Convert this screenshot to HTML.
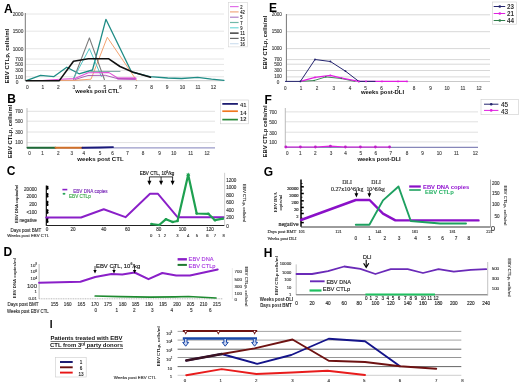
<!DOCTYPE html>
<html><head><meta charset="utf-8"><style>
html,body{margin:0;padding:0;background:#fff;width:520px;height:385px;overflow:hidden;}
svg{display:block;filter:blur(0.3px);font-family:"Liberation Sans",sans-serif;}
</style></head><body>
<svg width="520" height="385" viewBox="0 0 520 385">
<rect width="520" height="385" fill="#fff"/>
<text x="3.9" y="8.7" font-size="12" text-anchor="start" font-weight="bold" fill="#000" font-family="'Liberation Sans', sans-serif" dominant-baseline="central">A</text>
<line x1="25.3" y1="14" x2="224" y2="14" stroke="#e6e6e6" stroke-width="1"/>
<text x="23.3" y="14.3" font-size="4.8" text-anchor="end" font-weight="normal" fill="#444" stroke="#444" stroke-width="0.13" font-family="'Liberation Sans', sans-serif" dominant-baseline="central">2000</text>
<line x1="25.3" y1="31.2" x2="224" y2="31.2" stroke="#e6e6e6" stroke-width="1"/>
<text x="23.3" y="31.5" font-size="4.8" text-anchor="end" font-weight="normal" fill="#444" stroke="#444" stroke-width="0.13" font-family="'Liberation Sans', sans-serif" dominant-baseline="central">1500</text>
<line x1="25.3" y1="48.7" x2="224" y2="48.7" stroke="#e6e6e6" stroke-width="1"/>
<text x="23.3" y="49.0" font-size="4.8" text-anchor="end" font-weight="normal" fill="#444" stroke="#444" stroke-width="0.13" font-family="'Liberation Sans', sans-serif" dominant-baseline="central">1000</text>
<line x1="25.3" y1="59" x2="224" y2="59" stroke="#e6e6e6" stroke-width="1"/>
<text x="23.3" y="59.3" font-size="4.8" text-anchor="end" font-weight="normal" fill="#444" stroke="#444" stroke-width="0.13" font-family="'Liberation Sans', sans-serif" dominant-baseline="central">700</text>
<line x1="25.3" y1="64.4" x2="224" y2="64.4" stroke="#e6e6e6" stroke-width="1"/>
<text x="23.3" y="64.7" font-size="4.8" text-anchor="end" font-weight="normal" fill="#444" stroke="#444" stroke-width="0.13" font-family="'Liberation Sans', sans-serif" dominant-baseline="central">500</text>
<line x1="25.3" y1="70.6" x2="224" y2="70.6" stroke="#e6e6e6" stroke-width="1"/>
<text x="23.3" y="70.89999999999999" font-size="4.8" text-anchor="end" font-weight="normal" fill="#444" stroke="#444" stroke-width="0.13" font-family="'Liberation Sans', sans-serif" dominant-baseline="central">300</text>
<line x1="25.3" y1="76.8" x2="224" y2="76.8" stroke="#e6e6e6" stroke-width="1"/>
<text x="23.3" y="77.1" font-size="4.8" text-anchor="end" font-weight="normal" fill="#444" stroke="#444" stroke-width="0.13" font-family="'Liberation Sans', sans-serif" dominant-baseline="central">100</text>
<text x="17.2" y="82.4" font-size="4.8" text-anchor="middle" font-weight="normal" fill="#444" stroke="#444" stroke-width="0.13" font-family="'Liberation Sans', sans-serif" dominant-baseline="central">0</text>
<line x1="25.3" y1="80.7" x2="224" y2="80.7" stroke="#bbb" stroke-width="0.8"/>
<line x1="25.3" y1="13" x2="25.3" y2="81" stroke="#777" stroke-width="1"/>
<text x="27.4" y="87.6" font-size="4.8" text-anchor="middle" font-weight="normal" fill="#444" stroke="#444" stroke-width="0.13" font-family="'Liberation Sans', sans-serif" dominant-baseline="central">0</text>
<text x="42.91" y="87.6" font-size="4.8" text-anchor="middle" font-weight="normal" fill="#444" stroke="#444" stroke-width="0.13" font-family="'Liberation Sans', sans-serif" dominant-baseline="central">1</text>
<text x="58.42" y="87.6" font-size="4.8" text-anchor="middle" font-weight="normal" fill="#444" stroke="#444" stroke-width="0.13" font-family="'Liberation Sans', sans-serif" dominant-baseline="central">2</text>
<text x="73.93" y="87.6" font-size="4.8" text-anchor="middle" font-weight="normal" fill="#444" stroke="#444" stroke-width="0.13" font-family="'Liberation Sans', sans-serif" dominant-baseline="central">3</text>
<text x="89.44" y="87.6" font-size="4.8" text-anchor="middle" font-weight="normal" fill="#444" stroke="#444" stroke-width="0.13" font-family="'Liberation Sans', sans-serif" dominant-baseline="central">4</text>
<text x="104.94999999999999" y="87.6" font-size="4.8" text-anchor="middle" font-weight="normal" fill="#444" stroke="#444" stroke-width="0.13" font-family="'Liberation Sans', sans-serif" dominant-baseline="central">5</text>
<text x="120.46000000000001" y="87.6" font-size="4.8" text-anchor="middle" font-weight="normal" fill="#444" stroke="#444" stroke-width="0.13" font-family="'Liberation Sans', sans-serif" dominant-baseline="central">6</text>
<text x="135.97" y="87.6" font-size="4.8" text-anchor="middle" font-weight="normal" fill="#444" stroke="#444" stroke-width="0.13" font-family="'Liberation Sans', sans-serif" dominant-baseline="central">7</text>
<text x="151.48" y="87.6" font-size="4.8" text-anchor="middle" font-weight="normal" fill="#444" stroke="#444" stroke-width="0.13" font-family="'Liberation Sans', sans-serif" dominant-baseline="central">8</text>
<text x="166.99" y="87.6" font-size="4.8" text-anchor="middle" font-weight="normal" fill="#444" stroke="#444" stroke-width="0.13" font-family="'Liberation Sans', sans-serif" dominant-baseline="central">9</text>
<text x="182.5" y="87.6" font-size="4.8" text-anchor="middle" font-weight="normal" fill="#444" stroke="#444" stroke-width="0.13" font-family="'Liberation Sans', sans-serif" dominant-baseline="central">10</text>
<text x="198.01" y="87.6" font-size="4.8" text-anchor="middle" font-weight="normal" fill="#444" stroke="#444" stroke-width="0.13" font-family="'Liberation Sans', sans-serif" dominant-baseline="central">11</text>
<text x="213.52" y="87.6" font-size="4.8" text-anchor="middle" font-weight="normal" fill="#444" stroke="#444" stroke-width="0.13" font-family="'Liberation Sans', sans-serif" dominant-baseline="central">12</text>
<text x="97.3" y="91.4" font-size="5.8" text-anchor="middle" font-weight="bold" fill="#111" font-family="'Liberation Sans', sans-serif" dominant-baseline="central">weeks post CTL</text>
<text x="6.8" y="56.2" font-size="6.0" text-anchor="middle" font-weight="bold" fill="#111" font-family="'Liberation Sans', sans-serif" dominant-baseline="central" transform="rotate(-90 6.8 56.2)">EBV CTLp, cells/ml</text>
<polyline points="26.3,80.7 40.5,75.3 54,76.6 66.8,67.2 79,73.8 92.5,70 105.9,19.3 131.5,72 150,76.7 167.7,78 181.5,78.5 197.7,77.4 211.5,79.2 224,80.3" fill="none" stroke="#1f8c86" stroke-width="1.3" stroke-linejoin="round" stroke-linecap="round"/>
<polyline points="26.3,80.6 60,80.4 75,80.3 91,79.2 107.3,37.3 136.5,80.3" fill="none" stroke="#f08c4c" stroke-width="0.8" stroke-linejoin="round" stroke-linecap="round"/>
<polyline points="73.5,79.3 89.4,37.9 104.4,79.5" fill="none" stroke="#7a7a7a" stroke-width="1.1" stroke-linejoin="round" stroke-linecap="round"/>
<polyline points="73.5,78.5 89.4,48.6 101.4,76.5" fill="none" stroke="#40c0c0" stroke-width="0.9" stroke-linejoin="round" stroke-linecap="round"/>
<polyline points="90.7,71.4 120,71.4" fill="none" stroke="#6a9a96" stroke-width="0.9" stroke-linejoin="round" stroke-linecap="round"/>
<polyline points="42.5,80.5 60,79.3 74.8,78.6 88.3,72.8 109,72.6 118,78.2 135.5,78.4" fill="none" stroke="#e050d8" stroke-width="1.1" stroke-linejoin="round" stroke-linecap="round"/>
<polyline points="118,78.5 135.5,78.6" fill="none" stroke="#e050d8" stroke-width="2.2" stroke-linejoin="round" stroke-linecap="round"/>
<polyline points="75,79.5 88,75.5 105.3,75.3 118,78.8 135,79.2" fill="none" stroke="#a050b0" stroke-width="0.9" stroke-linejoin="round" stroke-linecap="round"/>
<polyline points="26.3,80.7 59.3,80.6 73.5,61.2 88.3,58.8 108.8,58.8 120,66.5 132.6,72 150.5,77.3" fill="none" stroke="#111" stroke-width="1.6" stroke-linejoin="round" stroke-linecap="round"/>
<rect x="228.6" y="2.3" width="19" height="44.6" fill="#fff" stroke="#d4d4d4" stroke-width="0.6"/>
<line x1="230" y1="6.6" x2="238.6" y2="6.6" stroke="#e070e8" stroke-width="1.2"/>
<text x="240.3" y="6.8" font-size="5.2" text-anchor="start" font-weight="normal" fill="#222" stroke="#222" stroke-width="0.13" font-family="'Liberation Sans', sans-serif" dominant-baseline="central" textLength="2.31" lengthAdjust="spacingAndGlyphs">2</text>
<line x1="230" y1="11.899999999999999" x2="238.6" y2="11.899999999999999" stroke="#f0a880" stroke-width="1.2"/>
<text x="240.3" y="12.099999999999998" font-size="5.2" text-anchor="start" font-weight="normal" fill="#222" stroke="#222" stroke-width="0.13" font-family="'Liberation Sans', sans-serif" dominant-baseline="central" textLength="4.63" lengthAdjust="spacingAndGlyphs">42</text>
<line x1="230" y1="17.2" x2="238.6" y2="17.2" stroke="#b080c8" stroke-width="1.2"/>
<text x="240.3" y="17.4" font-size="5.2" text-anchor="start" font-weight="normal" fill="#222" stroke="#222" stroke-width="0.13" font-family="'Liberation Sans', sans-serif" dominant-baseline="central" textLength="2.31" lengthAdjust="spacingAndGlyphs">5</text>
<line x1="230" y1="22.5" x2="238.6" y2="22.5" stroke="#70b8a8" stroke-width="1.2"/>
<text x="240.3" y="22.7" font-size="5.2" text-anchor="start" font-weight="normal" fill="#222" stroke="#222" stroke-width="0.13" font-family="'Liberation Sans', sans-serif" dominant-baseline="central" textLength="2.31" lengthAdjust="spacingAndGlyphs">7</text>
<line x1="230" y1="27.799999999999997" x2="238.6" y2="27.799999999999997" stroke="#70d8d8" stroke-width="1.2"/>
<text x="240.3" y="27.999999999999996" font-size="5.2" text-anchor="start" font-weight="normal" fill="#222" stroke="#222" stroke-width="0.13" font-family="'Liberation Sans', sans-serif" dominant-baseline="central" textLength="2.31" lengthAdjust="spacingAndGlyphs">9</text>
<line x1="230" y1="33.1" x2="238.6" y2="33.1" stroke="#111" stroke-width="1.2"/>
<text x="240.3" y="33.300000000000004" font-size="5.2" text-anchor="start" font-weight="normal" fill="#222" stroke="#222" stroke-width="0.13" font-family="'Liberation Sans', sans-serif" dominant-baseline="central" textLength="4.63" lengthAdjust="spacingAndGlyphs">11</text>
<line x1="230" y1="38.4" x2="238.6" y2="38.4" stroke="#666" stroke-width="1.2"/>
<text x="240.3" y="38.6" font-size="5.2" text-anchor="start" font-weight="normal" fill="#222" stroke="#222" stroke-width="0.13" font-family="'Liberation Sans', sans-serif" dominant-baseline="central" textLength="4.63" lengthAdjust="spacingAndGlyphs">15</text>
<line x1="230" y1="43.7" x2="238.6" y2="43.7" stroke="#d0e0f0" stroke-width="1.2"/>
<text x="240.3" y="43.900000000000006" font-size="5.2" text-anchor="start" font-weight="normal" fill="#222" stroke="#222" stroke-width="0.13" font-family="'Liberation Sans', sans-serif" dominant-baseline="central" textLength="4.63" lengthAdjust="spacingAndGlyphs">16</text>
<text x="7.2" y="98.6" font-size="12" text-anchor="start" font-weight="bold" fill="#000" font-family="'Liberation Sans', sans-serif" dominant-baseline="central">B</text>
<line x1="27" y1="111.3" x2="215" y2="111.3" stroke="#e2e2e2" stroke-width="1"/>
<text x="22.9" y="111.3" font-size="4.6" text-anchor="end" font-weight="normal" fill="#444" stroke="#444" stroke-width="0.13" font-family="'Liberation Sans', sans-serif" dominant-baseline="central">700</text>
<line x1="27" y1="121.2" x2="215" y2="121.2" stroke="#e2e2e2" stroke-width="1"/>
<text x="22.9" y="121.2" font-size="4.6" text-anchor="end" font-weight="normal" fill="#444" stroke="#444" stroke-width="0.13" font-family="'Liberation Sans', sans-serif" dominant-baseline="central">500</text>
<line x1="27" y1="132" x2="215" y2="132" stroke="#e2e2e2" stroke-width="1"/>
<text x="22.9" y="132" font-size="4.6" text-anchor="end" font-weight="normal" fill="#444" stroke="#444" stroke-width="0.13" font-family="'Liberation Sans', sans-serif" dominant-baseline="central">300</text>
<line x1="27" y1="142.6" x2="215" y2="142.6" stroke="#e2e2e2" stroke-width="1"/>
<text x="22.9" y="142.6" font-size="4.6" text-anchor="end" font-weight="normal" fill="#444" stroke="#444" stroke-width="0.13" font-family="'Liberation Sans', sans-serif" dominant-baseline="central">100</text>
<line x1="27" y1="108" x2="27" y2="148" stroke="#aaa" stroke-width="0.8"/>
<line x1="27" y1="147.9" x2="215" y2="147.9" stroke="#9a9ac8" stroke-width="1.1"/>
<polyline points="27.5,147.8 55.5,147.7" fill="none" stroke="#1e6a36" stroke-width="1.9" stroke-linejoin="round" stroke-linecap="round"/>
<polyline points="55.5,147.7 82.4,147.7" fill="none" stroke="#d07028" stroke-width="1.9" stroke-linejoin="round" stroke-linecap="round"/>
<polyline points="82.4,147.8 100,147.5 113,147.1" fill="none" stroke="#1a1a7a" stroke-width="1.9" stroke-linejoin="round" stroke-linecap="round"/>
<text x="29.5" y="153.3" font-size="4.6" text-anchor="middle" font-weight="normal" fill="#444" stroke="#444" stroke-width="0.13" font-family="'Liberation Sans', sans-serif" dominant-baseline="central">0</text>
<text x="42.5" y="153.3" font-size="4.6" text-anchor="middle" font-weight="normal" fill="#444" stroke="#444" stroke-width="0.13" font-family="'Liberation Sans', sans-serif" dominant-baseline="central">1</text>
<text x="58.3" y="153.3" font-size="4.6" text-anchor="middle" font-weight="normal" fill="#444" stroke="#444" stroke-width="0.13" font-family="'Liberation Sans', sans-serif" dominant-baseline="central">2</text>
<text x="71.8" y="153.3" font-size="4.6" text-anchor="middle" font-weight="normal" fill="#444" stroke="#444" stroke-width="0.13" font-family="'Liberation Sans', sans-serif" dominant-baseline="central">3</text>
<text x="83.8" y="153.3" font-size="4.6" text-anchor="middle" font-weight="normal" fill="#444" stroke="#444" stroke-width="0.13" font-family="'Liberation Sans', sans-serif" dominant-baseline="central">4</text>
<text x="100" y="153.3" font-size="4.6" text-anchor="middle" font-weight="normal" fill="#444" stroke="#444" stroke-width="0.13" font-family="'Liberation Sans', sans-serif" dominant-baseline="central">5</text>
<text x="112.5" y="153.3" font-size="4.6" text-anchor="middle" font-weight="normal" fill="#444" stroke="#444" stroke-width="0.13" font-family="'Liberation Sans', sans-serif" dominant-baseline="central">6</text>
<text x="127.5" y="153.3" font-size="4.6" text-anchor="middle" font-weight="normal" fill="#444" stroke="#444" stroke-width="0.13" font-family="'Liberation Sans', sans-serif" dominant-baseline="central">7</text>
<text x="143" y="153.3" font-size="4.6" text-anchor="middle" font-weight="normal" fill="#444" stroke="#444" stroke-width="0.13" font-family="'Liberation Sans', sans-serif" dominant-baseline="central">8</text>
<text x="159.5" y="153.3" font-size="4.6" text-anchor="middle" font-weight="normal" fill="#444" stroke="#444" stroke-width="0.13" font-family="'Liberation Sans', sans-serif" dominant-baseline="central">9</text>
<text x="173.75" y="153.3" font-size="4.6" text-anchor="middle" font-weight="normal" fill="#444" stroke="#444" stroke-width="0.13" font-family="'Liberation Sans', sans-serif" dominant-baseline="central">10</text>
<text x="190.75" y="153.3" font-size="4.6" text-anchor="middle" font-weight="normal" fill="#444" stroke="#444" stroke-width="0.13" font-family="'Liberation Sans', sans-serif" dominant-baseline="central">11</text>
<text x="207" y="153.3" font-size="4.6" text-anchor="middle" font-weight="normal" fill="#444" stroke="#444" stroke-width="0.13" font-family="'Liberation Sans', sans-serif" dominant-baseline="central">12</text>
<text x="100.5" y="158.8" font-size="6.1" text-anchor="middle" font-weight="bold" fill="#111" font-family="'Liberation Sans', sans-serif" dominant-baseline="central">weeks post CTL</text>
<text x="10.2" y="131.5" font-size="5.9" text-anchor="middle" font-weight="bold" fill="#111" font-family="'Liberation Sans', sans-serif" dominant-baseline="central" transform="rotate(-90 10.2 131.5)">EBV CTLp, cells/ml</text>
<rect x="220.5" y="100" width="28" height="23.8" fill="#fff" stroke="#ccc" stroke-width="0.6"/>
<line x1="222.3" y1="103.9" x2="237.9" y2="103.9" stroke="#10106a" stroke-width="1.7"/>
<text x="240" y="105" font-size="5.8" text-anchor="start" font-weight="bold" fill="#333" font-family="'Liberation Sans', sans-serif" dominant-baseline="central">41</text>
<line x1="222.3" y1="111.2" x2="237.9" y2="111.2" stroke="#f07820" stroke-width="1.7"/>
<text x="240" y="113" font-size="5.8" text-anchor="start" font-weight="bold" fill="#333" font-family="'Liberation Sans', sans-serif" dominant-baseline="central">14</text>
<line x1="222.3" y1="119.6" x2="237.9" y2="119.6" stroke="#2a8a3a" stroke-width="1.7"/>
<text x="240" y="119.2" font-size="5.8" text-anchor="start" font-weight="bold" fill="#333" font-family="'Liberation Sans', sans-serif" dominant-baseline="central">12</text>
<text x="269" y="7.5" font-size="12" text-anchor="start" font-weight="bold" fill="#000" font-family="'Liberation Sans', sans-serif" dominant-baseline="central">E</text>
<line x1="286.4" y1="14.8" x2="490" y2="14.8" stroke="#d8d8d8" stroke-width="1"/>
<text x="281.9" y="14.8" font-size="4.6" text-anchor="end" font-weight="normal" fill="#444" stroke="#444" stroke-width="0.13" font-family="'Liberation Sans', sans-serif" dominant-baseline="central">2000</text>
<line x1="286.4" y1="31.7" x2="490" y2="31.7" stroke="#d8d8d8" stroke-width="1"/>
<text x="281.9" y="31.7" font-size="4.6" text-anchor="end" font-weight="normal" fill="#444" stroke="#444" stroke-width="0.13" font-family="'Liberation Sans', sans-serif" dominant-baseline="central">1500</text>
<line x1="286.4" y1="48.6" x2="490" y2="48.6" stroke="#d8d8d8" stroke-width="1"/>
<text x="281.9" y="48.6" font-size="4.6" text-anchor="end" font-weight="normal" fill="#444" stroke="#444" stroke-width="0.13" font-family="'Liberation Sans', sans-serif" dominant-baseline="central">1000</text>
<line x1="286.4" y1="59.6" x2="490" y2="59.6" stroke="#d8d8d8" stroke-width="1"/>
<text x="281.9" y="59.6" font-size="4.6" text-anchor="end" font-weight="normal" fill="#444" stroke="#444" stroke-width="0.13" font-family="'Liberation Sans', sans-serif" dominant-baseline="central">700</text>
<line x1="286.4" y1="64.2" x2="490" y2="64.2" stroke="#d8d8d8" stroke-width="1"/>
<text x="281.9" y="64.2" font-size="4.6" text-anchor="end" font-weight="normal" fill="#444" stroke="#444" stroke-width="0.13" font-family="'Liberation Sans', sans-serif" dominant-baseline="central">500</text>
<line x1="286.4" y1="70.5" x2="490" y2="70.5" stroke="#d8d8d8" stroke-width="1"/>
<text x="281.9" y="70.5" font-size="4.6" text-anchor="end" font-weight="normal" fill="#444" stroke="#444" stroke-width="0.13" font-family="'Liberation Sans', sans-serif" dominant-baseline="central">300</text>
<line x1="286.4" y1="76.9" x2="490" y2="76.9" stroke="#d8d8d8" stroke-width="1"/>
<text x="281.9" y="76.9" font-size="4.6" text-anchor="end" font-weight="normal" fill="#444" stroke="#444" stroke-width="0.13" font-family="'Liberation Sans', sans-serif" dominant-baseline="central">100</text>
<text x="278" y="82.3" font-size="4.6" text-anchor="middle" font-weight="normal" fill="#444" stroke="#444" stroke-width="0.13" font-family="'Liberation Sans', sans-serif" dominant-baseline="central">0</text>
<line x1="286.4" y1="81.5" x2="490" y2="81.5" stroke="#bbb" stroke-width="0.8"/>
<line x1="286.4" y1="14" x2="286.4" y2="82" stroke="#777" stroke-width="1"/>
<text x="285.4" y="88.5" font-size="4.6" text-anchor="middle" font-weight="normal" fill="#444" stroke="#444" stroke-width="0.13" font-family="'Liberation Sans', sans-serif" dominant-baseline="central">0</text>
<text x="301" y="88.5" font-size="4.6" text-anchor="middle" font-weight="normal" fill="#444" stroke="#444" stroke-width="0.13" font-family="'Liberation Sans', sans-serif" dominant-baseline="central">1</text>
<text x="317" y="88.5" font-size="4.6" text-anchor="middle" font-weight="normal" fill="#444" stroke="#444" stroke-width="0.13" font-family="'Liberation Sans', sans-serif" dominant-baseline="central">2</text>
<text x="333.8" y="88.5" font-size="4.6" text-anchor="middle" font-weight="normal" fill="#444" stroke="#444" stroke-width="0.13" font-family="'Liberation Sans', sans-serif" dominant-baseline="central">3</text>
<text x="350" y="88.5" font-size="4.6" text-anchor="middle" font-weight="normal" fill="#444" stroke="#444" stroke-width="0.13" font-family="'Liberation Sans', sans-serif" dominant-baseline="central">4</text>
<text x="365.5" y="88.5" font-size="4.6" text-anchor="middle" font-weight="normal" fill="#444" stroke="#444" stroke-width="0.13" font-family="'Liberation Sans', sans-serif" dominant-baseline="central">5</text>
<text x="381.5" y="88.5" font-size="4.6" text-anchor="middle" font-weight="normal" fill="#444" stroke="#444" stroke-width="0.13" font-family="'Liberation Sans', sans-serif" dominant-baseline="central">6</text>
<text x="398" y="88.5" font-size="4.6" text-anchor="middle" font-weight="normal" fill="#444" stroke="#444" stroke-width="0.13" font-family="'Liberation Sans', sans-serif" dominant-baseline="central">7</text>
<text x="414" y="88.5" font-size="4.6" text-anchor="middle" font-weight="normal" fill="#444" stroke="#444" stroke-width="0.13" font-family="'Liberation Sans', sans-serif" dominant-baseline="central">8</text>
<text x="430.6" y="88.5" font-size="4.6" text-anchor="middle" font-weight="normal" fill="#444" stroke="#444" stroke-width="0.13" font-family="'Liberation Sans', sans-serif" dominant-baseline="central">9</text>
<text x="447" y="88.5" font-size="4.6" text-anchor="middle" font-weight="normal" fill="#444" stroke="#444" stroke-width="0.13" font-family="'Liberation Sans', sans-serif" dominant-baseline="central">10</text>
<text x="462.9" y="88.5" font-size="4.6" text-anchor="middle" font-weight="normal" fill="#444" stroke="#444" stroke-width="0.13" font-family="'Liberation Sans', sans-serif" dominant-baseline="central">11</text>
<text x="479" y="88.5" font-size="4.6" text-anchor="middle" font-weight="normal" fill="#444" stroke="#444" stroke-width="0.13" font-family="'Liberation Sans', sans-serif" dominant-baseline="central">12</text>
<text x="382.5" y="92.1" font-size="5.9" text-anchor="middle" font-weight="bold" fill="#111" font-family="'Liberation Sans', sans-serif" dominant-baseline="central">weeks post-DLI</text>
<text x="264.9" y="42.5" font-size="5.9" text-anchor="middle" font-weight="bold" fill="#111" font-family="'Liberation Sans', sans-serif" dominant-baseline="central" transform="rotate(-90 264.9 42.5)">EBV CTLp, cells/ml</text>
<polyline points="300.4,81.4 314.2,80.5 325.8,76.9 341.2,78.5 355,81.4" fill="none" stroke="#2e7d4a" stroke-width="0.9" stroke-linejoin="round" stroke-linecap="round"/>
<polyline points="300.4,81.4 315,77.4 330.4,75.4 341.9,78.2 358.8,81.4 366,81.4 382,81.4 398,81.4 407,81.4" fill="none" stroke="#e020e0" stroke-width="1.2" stroke-linejoin="round" stroke-linecap="round"/>
<polyline points="285.4,81.4 300.4,81.4 315,59.5 330.4,61.5 345.5,71.2 358.8,81.4 375,81.4" fill="none" stroke="#24246e" stroke-width="1" stroke-linejoin="round" stroke-linecap="round"/>
<circle cx="300.4" cy="81.4" r="0.9" fill="#24246e" stroke="none" stroke-width="0"/>
<circle cx="315" cy="59.5" r="0.9" fill="#24246e" stroke="none" stroke-width="0"/>
<circle cx="330.4" cy="61.5" r="0.9" fill="#24246e" stroke="none" stroke-width="0"/>
<circle cx="345.5" cy="71.2" r="0.9" fill="#24246e" stroke="none" stroke-width="0"/>
<circle cx="358.8" cy="81.4" r="0.9" fill="#24246e" stroke="none" stroke-width="0"/>
<circle cx="315" cy="77.4" r="0.9" fill="#e020e0" stroke="none" stroke-width="0"/>
<circle cx="330.4" cy="75.4" r="0.9" fill="#e020e0" stroke="none" stroke-width="0"/>
<circle cx="341.9" cy="78.2" r="0.9" fill="#e020e0" stroke="none" stroke-width="0"/>
<circle cx="358.8" cy="81.4" r="0.9" fill="#e020e0" stroke="none" stroke-width="0"/>
<circle cx="366" cy="81.4" r="0.9" fill="#e020e0" stroke="none" stroke-width="0"/>
<circle cx="382" cy="81.4" r="0.9" fill="#e020e0" stroke="none" stroke-width="0"/>
<circle cx="398" cy="81.4" r="0.9" fill="#e020e0" stroke="none" stroke-width="0"/>
<circle cx="407" cy="81.4" r="0.9" fill="#e020e0" stroke="none" stroke-width="0"/>
<circle cx="314.2" cy="80.5" r="0.8" fill="#2e7d4a" stroke="none" stroke-width="0"/>
<circle cx="325.8" cy="76.9" r="0.8" fill="#2e7d4a" stroke="none" stroke-width="0"/>
<circle cx="341.2" cy="78.5" r="0.8" fill="#2e7d4a" stroke="none" stroke-width="0"/>
<rect x="492.4" y="2" width="24.2" height="22.2" fill="#fff" stroke="#ccc" stroke-width="0.6"/>
<line x1="493.7" y1="6.5" x2="505.2" y2="6.5" stroke="#24246e" stroke-width="1"/>
<circle cx="499.8" cy="6.5" r="1.3" fill="#24246e" stroke="none" stroke-width="0"/>
<text x="507" y="6.8" font-size="6.3" text-anchor="start" font-weight="bold" fill="#333" font-family="'Liberation Sans', sans-serif" dominant-baseline="central">23</text>
<line x1="493.7" y1="13.5" x2="505.2" y2="13.5" stroke="#e020e0" stroke-width="1"/>
<circle cx="499.8" cy="13.5" r="1.3" fill="#e020e0" stroke="none" stroke-width="0"/>
<text x="507" y="13.8" font-size="6.3" text-anchor="start" font-weight="bold" fill="#333" font-family="'Liberation Sans', sans-serif" dominant-baseline="central">21</text>
<line x1="493.7" y1="20.5" x2="505.2" y2="20.5" stroke="#2e7d4a" stroke-width="1"/>
<circle cx="499.8" cy="20.5" r="1.3" fill="#2e7d4a" stroke="none" stroke-width="0"/>
<text x="507" y="20.8" font-size="6.3" text-anchor="start" font-weight="bold" fill="#333" font-family="'Liberation Sans', sans-serif" dominant-baseline="central">44</text>
<text x="264.5" y="99.8" font-size="12" text-anchor="start" font-weight="bold" fill="#000" font-family="'Liberation Sans', sans-serif" dominant-baseline="central">F</text>
<line x1="285.3" y1="111.9" x2="478" y2="111.9" stroke="#e0e0e0" stroke-width="1"/>
<text x="276.9" y="112.80000000000001" font-size="4.6" text-anchor="end" font-weight="normal" fill="#444" stroke="#444" stroke-width="0.13" font-family="'Liberation Sans', sans-serif" dominant-baseline="central">700</text>
<line x1="285.3" y1="121.8" x2="478" y2="121.8" stroke="#e0e0e0" stroke-width="1"/>
<text x="276.9" y="122.7" font-size="4.6" text-anchor="end" font-weight="normal" fill="#444" stroke="#444" stroke-width="0.13" font-family="'Liberation Sans', sans-serif" dominant-baseline="central">500</text>
<line x1="285.3" y1="132.2" x2="478" y2="132.2" stroke="#e0e0e0" stroke-width="1"/>
<text x="276.9" y="133.1" font-size="4.6" text-anchor="end" font-weight="normal" fill="#444" stroke="#444" stroke-width="0.13" font-family="'Liberation Sans', sans-serif" dominant-baseline="central">300</text>
<line x1="285.3" y1="141.9" x2="478" y2="141.9" stroke="#e0e0e0" stroke-width="1"/>
<text x="276.9" y="142.8" font-size="4.6" text-anchor="end" font-weight="normal" fill="#444" stroke="#444" stroke-width="0.13" font-family="'Liberation Sans', sans-serif" dominant-baseline="central">100</text>
<line x1="285.3" y1="108" x2="285.3" y2="148" stroke="#aaa" stroke-width="0.8"/>
<line x1="285.3" y1="147.3" x2="478" y2="147.3" stroke="#6a6aa8" stroke-width="1"/>
<polyline points="285.8,147 300.4,147 315.4,147 330.4,146.2 345.4,147 360.4,147 375.4,147 389.6,147" fill="none" stroke="#e020e0" stroke-width="1.2" stroke-linejoin="round" stroke-linecap="round"/>
<circle cx="285.8" cy="147" r="1.4" fill="#c020c8" stroke="none" stroke-width="0"/>
<circle cx="300.4" cy="147" r="1.4" fill="#c020c8" stroke="none" stroke-width="0"/>
<circle cx="315.4" cy="147" r="1.4" fill="#c020c8" stroke="none" stroke-width="0"/>
<circle cx="330.4" cy="146.2" r="1.4" fill="#c020c8" stroke="none" stroke-width="0"/>
<circle cx="345.4" cy="147" r="1.4" fill="#c020c8" stroke="none" stroke-width="0"/>
<circle cx="360.4" cy="147" r="1.4" fill="#c020c8" stroke="none" stroke-width="0"/>
<circle cx="375.4" cy="147" r="1.4" fill="#c020c8" stroke="none" stroke-width="0"/>
<circle cx="389.6" cy="147" r="1.4" fill="#c020c8" stroke="none" stroke-width="0"/>
<text x="287.2" y="153.2" font-size="4.6" text-anchor="middle" font-weight="normal" fill="#444" stroke="#444" stroke-width="0.13" font-family="'Liberation Sans', sans-serif" dominant-baseline="central">0</text>
<text x="300.4" y="153.2" font-size="4.6" text-anchor="middle" font-weight="normal" fill="#444" stroke="#444" stroke-width="0.13" font-family="'Liberation Sans', sans-serif" dominant-baseline="central">1</text>
<text x="315.4" y="153.2" font-size="4.6" text-anchor="middle" font-weight="normal" fill="#444" stroke="#444" stroke-width="0.13" font-family="'Liberation Sans', sans-serif" dominant-baseline="central">2</text>
<text x="331" y="153.2" font-size="4.6" text-anchor="middle" font-weight="normal" fill="#444" stroke="#444" stroke-width="0.13" font-family="'Liberation Sans', sans-serif" dominant-baseline="central">3</text>
<text x="345.6" y="153.2" font-size="4.6" text-anchor="middle" font-weight="normal" fill="#444" stroke="#444" stroke-width="0.13" font-family="'Liberation Sans', sans-serif" dominant-baseline="central">4</text>
<text x="360.8" y="153.2" font-size="4.6" text-anchor="middle" font-weight="normal" fill="#444" stroke="#444" stroke-width="0.13" font-family="'Liberation Sans', sans-serif" dominant-baseline="central">5</text>
<text x="375.8" y="153.2" font-size="4.6" text-anchor="middle" font-weight="normal" fill="#444" stroke="#444" stroke-width="0.13" font-family="'Liberation Sans', sans-serif" dominant-baseline="central">6</text>
<text x="390.8" y="153.2" font-size="4.6" text-anchor="middle" font-weight="normal" fill="#444" stroke="#444" stroke-width="0.13" font-family="'Liberation Sans', sans-serif" dominant-baseline="central">7</text>
<text x="407" y="153.2" font-size="4.6" text-anchor="middle" font-weight="normal" fill="#444" stroke="#444" stroke-width="0.13" font-family="'Liberation Sans', sans-serif" dominant-baseline="central">8</text>
<text x="422.5" y="153.2" font-size="4.6" text-anchor="middle" font-weight="normal" fill="#444" stroke="#444" stroke-width="0.13" font-family="'Liberation Sans', sans-serif" dominant-baseline="central">9</text>
<text x="439.2" y="153.2" font-size="4.6" text-anchor="middle" font-weight="normal" fill="#444" stroke="#444" stroke-width="0.13" font-family="'Liberation Sans', sans-serif" dominant-baseline="central">10</text>
<text x="456.5" y="153.2" font-size="4.6" text-anchor="middle" font-weight="normal" fill="#444" stroke="#444" stroke-width="0.13" font-family="'Liberation Sans', sans-serif" dominant-baseline="central">11</text>
<text x="475.3" y="153.2" font-size="4.6" text-anchor="middle" font-weight="normal" fill="#444" stroke="#444" stroke-width="0.13" font-family="'Liberation Sans', sans-serif" dominant-baseline="central">12</text>
<text x="379.1" y="158.5" font-size="5.9" text-anchor="middle" font-weight="bold" fill="#111" font-family="'Liberation Sans', sans-serif" dominant-baseline="central">weeks post-DLI</text>
<text x="264.8" y="131.5" font-size="5.9" text-anchor="middle" font-weight="bold" fill="#111" font-family="'Liberation Sans', sans-serif" dominant-baseline="central" transform="rotate(-90 264.8 131.5)">EBV CTLp cells/ml</text>
<rect x="481" y="99.3" width="37.5" height="15.4" fill="#fff" stroke="#ccc" stroke-width="0.6"/>
<line x1="484" y1="104.2" x2="498.4" y2="104.2" stroke="#24246e" stroke-width="1"/>
<circle cx="491.2" cy="104.2" r="1.3" fill="#24246e" stroke="none" stroke-width="0"/>
<text x="501" y="104.8" font-size="6.4" text-anchor="start" font-weight="normal" fill="#222" stroke="#222" stroke-width="0.13" font-family="'Liberation Sans', sans-serif" dominant-baseline="central">45</text>
<line x1="484" y1="110.4" x2="498.4" y2="110.4" stroke="#e020e0" stroke-width="1"/>
<circle cx="491.2" cy="110.4" r="1.3" fill="#e020e0" stroke="none" stroke-width="0"/>
<text x="501" y="111.0" font-size="6.4" text-anchor="start" font-weight="normal" fill="#222" stroke="#222" stroke-width="0.13" font-family="'Liberation Sans', sans-serif" dominant-baseline="central">43</text>
<text x="6.8" y="171.3" font-size="12" text-anchor="start" font-weight="bold" fill="#000" font-family="'Liberation Sans', sans-serif" dominant-baseline="central">C</text>
<line x1="46.3" y1="185.5" x2="46.3" y2="225.8" stroke="#000" stroke-width="1.1"/>
<rect x="46.3" y="185.8" width="1.9" height="3.9" fill="#000"/>
<line x1="48.2" y1="187.0" x2="49" y2="187.0" stroke="#000" stroke-width="0.6"/>
<line x1="48.2" y1="188.5" x2="49" y2="188.5" stroke="#000" stroke-width="0.6"/>
<rect x="46.3" y="193" width="1.9" height="4.5" fill="#000"/>
<line x1="48.2" y1="194.2" x2="49" y2="194.2" stroke="#000" stroke-width="0.6"/>
<line x1="48.2" y1="196.3" x2="49" y2="196.3" stroke="#000" stroke-width="0.6"/>
<rect x="46.3" y="200.8" width="1.9" height="5.2" fill="#000"/>
<line x1="48.2" y1="202.0" x2="49" y2="202.0" stroke="#000" stroke-width="0.6"/>
<line x1="48.2" y1="204.8" x2="49" y2="204.8" stroke="#000" stroke-width="0.6"/>
<rect x="46.3" y="209.2" width="1.9" height="4.6" fill="#000"/>
<line x1="48.2" y1="210.39999999999998" x2="49" y2="210.39999999999998" stroke="#000" stroke-width="0.6"/>
<line x1="48.2" y1="212.60000000000002" x2="49" y2="212.60000000000002" stroke="#000" stroke-width="0.6"/>
<rect x="46.3" y="217" width="1.9" height="5.9" fill="#000"/>
<line x1="48.2" y1="218.2" x2="49" y2="218.2" stroke="#000" stroke-width="0.6"/>
<line x1="48.2" y1="221.70000000000002" x2="49" y2="221.70000000000002" stroke="#000" stroke-width="0.6"/>
<text x="36.8" y="189.1" font-size="4.6" text-anchor="end" font-weight="normal" fill="#333" stroke="#333" stroke-width="0.13" font-family="'Liberation Sans', sans-serif" dominant-baseline="central">20000</text>
<text x="36.8" y="196.9" font-size="4.6" text-anchor="end" font-weight="normal" fill="#333" stroke="#333" stroke-width="0.13" font-family="'Liberation Sans', sans-serif" dominant-baseline="central">2000</text>
<text x="36.8" y="204.9" font-size="4.6" text-anchor="end" font-weight="normal" fill="#333" stroke="#333" stroke-width="0.13" font-family="'Liberation Sans', sans-serif" dominant-baseline="central">200</text>
<text x="36.8" y="212.7" font-size="4.6" text-anchor="end" font-weight="normal" fill="#333" stroke="#333" stroke-width="0.13" font-family="'Liberation Sans', sans-serif" dominant-baseline="central">&lt;100</text>
<text x="36.8" y="220.5" font-size="4.6" text-anchor="end" font-weight="normal" fill="#333" stroke="#333" stroke-width="0.13" font-family="'Liberation Sans', sans-serif" dominant-baseline="central">negative</text>
<text x="16" y="204" font-size="4.3" text-anchor="middle" font-weight="normal" fill="#222" stroke="#222" stroke-width="0.13" font-family="'Liberation Sans', sans-serif" dominant-baseline="central" transform="rotate(-90 16 204)">EBV DNA copies/ml</text>
<line x1="46.2" y1="225.5" x2="224.5" y2="225.5" stroke="#222" stroke-width="1"/>
<polyline points="46.2,217.5 81,217.5 103.75,209.25 125.5,217.2 150,193.8 158,193.8 177.5,217.2 223.7,217.2" fill="none" stroke="#8a1fc8" stroke-width="1.9" stroke-linejoin="round" stroke-linecap="round"/>
<polyline points="151.5,224 159.2,225 166,219.2 172.7,222 177.5,221 188.2,174.8 196.7,213.5 208.3,213.8 215,220.2 222.7,218.7" fill="none" stroke="#1ea050" stroke-width="2.2" stroke-linejoin="round" stroke-linecap="round"/>
<circle cx="151.5" cy="224" r="1.3" fill="#1ea050" stroke="none" stroke-width="0"/>
<circle cx="159.2" cy="225" r="1.3" fill="#1ea050" stroke="none" stroke-width="0"/>
<circle cx="166" cy="219.2" r="1.3" fill="#1ea050" stroke="none" stroke-width="0"/>
<circle cx="172.7" cy="222" r="1.3" fill="#1ea050" stroke="none" stroke-width="0"/>
<circle cx="177.5" cy="221" r="1.3" fill="#1ea050" stroke="none" stroke-width="0"/>
<circle cx="188.2" cy="174.8" r="1.3" fill="#1ea050" stroke="none" stroke-width="0"/>
<circle cx="196.7" cy="213.5" r="1.3" fill="#1ea050" stroke="none" stroke-width="0"/>
<circle cx="208.3" cy="213.8" r="1.3" fill="#1ea050" stroke="none" stroke-width="0"/>
<circle cx="215" cy="220.2" r="1.3" fill="#1ea050" stroke="none" stroke-width="0"/>
<circle cx="222.7" cy="218.7" r="1.3" fill="#1ea050" stroke="none" stroke-width="0"/>
<polygon points="188.20,172.20 188.70,173.93 190.45,173.50 189.20,174.80 190.45,176.10 188.70,175.67 188.20,177.40 187.70,175.67 185.95,176.10 187.20,174.80 185.95,173.50 187.70,173.93" fill="#1ea050"/>
<line x1="62.4" y1="189.6" x2="67.3" y2="189.6" stroke="#8a1fc8" stroke-width="1.6"/>
<text x="73.2" y="191" font-size="4.6" text-anchor="start" font-weight="normal" fill="#7a2ab8" stroke="#7a2ab8" stroke-width="0.13" font-family="'Liberation Sans', sans-serif" dominant-baseline="central">EBV DNA copies</text>
<circle cx="64" cy="193.8" r="1" fill="#1ea050" stroke="none" stroke-width="0"/>
<line x1="62.5" y1="193.8" x2="65.5" y2="193.8" stroke="#1ea050" stroke-width="0.8"/>
<text x="69" y="196.6" font-size="4.6" text-anchor="start" font-weight="normal" fill="#3aa848" stroke="#3aa848" stroke-width="0.13" font-family="'Liberation Sans', sans-serif" dominant-baseline="central">EBV CTLp</text>
<line x1="224.6" y1="172.8" x2="224.6" y2="226" stroke="#bbb" stroke-width="0.7"/>
<text x="226.2" y="180.5" font-size="4.6" text-anchor="start" font-weight="normal" fill="#333" stroke="#333" stroke-width="0.13" font-family="'Liberation Sans', sans-serif" dominant-baseline="central">1200</text>
<text x="226.2" y="187.5" font-size="4.6" text-anchor="start" font-weight="normal" fill="#333" stroke="#333" stroke-width="0.13" font-family="'Liberation Sans', sans-serif" dominant-baseline="central">1000</text>
<text x="226.2" y="195" font-size="4.6" text-anchor="start" font-weight="normal" fill="#333" stroke="#333" stroke-width="0.13" font-family="'Liberation Sans', sans-serif" dominant-baseline="central">800</text>
<text x="226.2" y="202.5" font-size="4.6" text-anchor="start" font-weight="normal" fill="#333" stroke="#333" stroke-width="0.13" font-family="'Liberation Sans', sans-serif" dominant-baseline="central">600</text>
<text x="226.2" y="210" font-size="4.6" text-anchor="start" font-weight="normal" fill="#333" stroke="#333" stroke-width="0.13" font-family="'Liberation Sans', sans-serif" dominant-baseline="central">400</text>
<text x="226.2" y="217.3" font-size="4.6" text-anchor="start" font-weight="normal" fill="#333" stroke="#333" stroke-width="0.13" font-family="'Liberation Sans', sans-serif" dominant-baseline="central">200</text>
<text x="226.2" y="226.6" font-size="4.6" text-anchor="start" font-weight="normal" fill="#333" stroke="#333" stroke-width="0.13" font-family="'Liberation Sans', sans-serif" dominant-baseline="central">0</text>
<text x="244.7" y="203" font-size="4.4" text-anchor="middle" font-weight="normal" fill="#333" stroke="#333" stroke-width="0.13" font-family="'Liberation Sans', sans-serif" dominant-baseline="central" transform="rotate(90 244.7 203)">EBV CTLp, cells/ml</text>
<text x="157" y="173.4" font-size="4.6" text-anchor="middle" font-weight="normal" fill="#111" stroke="#111" stroke-width="0.13" font-family="'Liberation Sans', sans-serif" dominant-baseline="central">EBV CTL, 10<tspan dy="-1" font-size="3">6</tspan><tspan dy="1">/kg</tspan></text>
<line x1="149.4" y1="176.9" x2="173.1" y2="176.9" stroke="#000" stroke-width="0.8"/>
<line x1="149.4" y1="176.9" x2="149.4" y2="181.5" stroke="#000" stroke-width="0.8"/>
<path d="M147.4,180.8 L151.4,180.8 L149.4,185.2 Z" fill="#000"/>
<line x1="161.1" y1="176.9" x2="161.1" y2="181.5" stroke="#000" stroke-width="0.8"/>
<path d="M159.1,180.8 L163.1,180.8 L161.1,185.2 Z" fill="#000"/>
<line x1="172.6" y1="176.9" x2="172.6" y2="181.5" stroke="#000" stroke-width="0.8"/>
<path d="M170.6,180.8 L174.6,180.8 L172.6,185.2 Z" fill="#000"/>
<text x="26" y="230.6" font-size="4.5" text-anchor="middle" font-weight="normal" fill="#333" stroke="#333" stroke-width="0.13" font-family="'Liberation Sans', sans-serif" dominant-baseline="central">Days post BMT</text>
<text x="28.1" y="235.8" font-size="4.35" text-anchor="middle" font-weight="normal" fill="#333" stroke="#333" stroke-width="0.13" font-family="'Liberation Sans', sans-serif" dominant-baseline="central">Weeks post EBV CTL</text>
<text x="47" y="229.8" font-size="4.6" text-anchor="middle" font-weight="normal" fill="#333" stroke="#333" stroke-width="0.13" font-family="'Liberation Sans', sans-serif" dominant-baseline="central">0</text>
<text x="73" y="229.8" font-size="4.6" text-anchor="middle" font-weight="normal" fill="#333" stroke="#333" stroke-width="0.13" font-family="'Liberation Sans', sans-serif" dominant-baseline="central">20</text>
<text x="103.75" y="229.8" font-size="4.6" text-anchor="middle" font-weight="normal" fill="#333" stroke="#333" stroke-width="0.13" font-family="'Liberation Sans', sans-serif" dominant-baseline="central">40</text>
<text x="127.5" y="229.8" font-size="4.6" text-anchor="middle" font-weight="normal" fill="#333" stroke="#333" stroke-width="0.13" font-family="'Liberation Sans', sans-serif" dominant-baseline="central">60</text>
<text x="158.75" y="229.8" font-size="4.6" text-anchor="middle" font-weight="normal" fill="#333" stroke="#333" stroke-width="0.13" font-family="'Liberation Sans', sans-serif" dominant-baseline="central">80</text>
<text x="182.5" y="229.8" font-size="4.6" text-anchor="middle" font-weight="normal" fill="#333" stroke="#333" stroke-width="0.13" font-family="'Liberation Sans', sans-serif" dominant-baseline="central">100</text>
<text x="210" y="229.8" font-size="4.6" text-anchor="middle" font-weight="normal" fill="#333" stroke="#333" stroke-width="0.13" font-family="'Liberation Sans', sans-serif" dominant-baseline="central">120</text>
<text x="151.25" y="235.5" font-size="4.2" text-anchor="middle" font-weight="normal" fill="#333" stroke="#333" stroke-width="0.13" font-family="'Liberation Sans', sans-serif" dominant-baseline="central">0</text>
<text x="159.25" y="235.5" font-size="4.2" text-anchor="middle" font-weight="normal" fill="#333" stroke="#333" stroke-width="0.13" font-family="'Liberation Sans', sans-serif" dominant-baseline="central">1</text>
<text x="165" y="235.5" font-size="4.2" text-anchor="middle" font-weight="normal" fill="#333" stroke="#333" stroke-width="0.13" font-family="'Liberation Sans', sans-serif" dominant-baseline="central">2</text>
<text x="177.5" y="235.5" font-size="4.2" text-anchor="middle" font-weight="normal" fill="#333" stroke="#333" stroke-width="0.13" font-family="'Liberation Sans', sans-serif" dominant-baseline="central">3</text>
<text x="188.25" y="235.5" font-size="4.2" text-anchor="middle" font-weight="normal" fill="#333" stroke="#333" stroke-width="0.13" font-family="'Liberation Sans', sans-serif" dominant-baseline="central">4</text>
<text x="197" y="235.5" font-size="4.2" text-anchor="middle" font-weight="normal" fill="#333" stroke="#333" stroke-width="0.13" font-family="'Liberation Sans', sans-serif" dominant-baseline="central">5</text>
<text x="207.5" y="235.5" font-size="4.2" text-anchor="middle" font-weight="normal" fill="#333" stroke="#333" stroke-width="0.13" font-family="'Liberation Sans', sans-serif" dominant-baseline="central">6</text>
<text x="215" y="235.5" font-size="4.2" text-anchor="middle" font-weight="normal" fill="#333" stroke="#333" stroke-width="0.13" font-family="'Liberation Sans', sans-serif" dominant-baseline="central">7</text>
<text x="223.75" y="235.5" font-size="4.2" text-anchor="middle" font-weight="normal" fill="#333" stroke="#333" stroke-width="0.13" font-family="'Liberation Sans', sans-serif" dominant-baseline="central">8</text>
<text x="3.5" y="251.6" font-size="12" text-anchor="start" font-weight="bold" fill="#000" font-family="'Liberation Sans', sans-serif" dominant-baseline="central">D</text>
<line x1="39.1" y1="264" x2="39.1" y2="299" stroke="#999" stroke-width="0.7"/>
<text x="37" y="265" font-size="4.4" text-anchor="end" font-weight="normal" fill="#333" stroke="#333" stroke-width="0.13" font-family="'Liberation Sans', sans-serif" dominant-baseline="central">10<tspan dy="-1" font-size="2.8">8</tspan></text>
<text x="37" y="271.7" font-size="4.4" text-anchor="end" font-weight="normal" fill="#333" stroke="#333" stroke-width="0.13" font-family="'Liberation Sans', sans-serif" dominant-baseline="central">10<tspan dy="-1" font-size="2.8">6</tspan></text>
<text x="37" y="278.7" font-size="4.4" text-anchor="end" font-weight="normal" fill="#333" stroke="#333" stroke-width="0.13" font-family="'Liberation Sans', sans-serif" dominant-baseline="central">10<tspan dy="-1" font-size="2.8">4</tspan></text>
<text x="37" y="286.1" font-size="6" text-anchor="end" font-weight="normal" fill="#333" stroke="#333" stroke-width="0.13" font-family="'Liberation Sans', sans-serif" dominant-baseline="central">100</text>
<text x="37" y="291.8" font-size="4.4" text-anchor="end" font-weight="normal" fill="#333" stroke="#333" stroke-width="0.13" font-family="'Liberation Sans', sans-serif" dominant-baseline="central">1</text>
<text x="37" y="298.2" font-size="4.4" text-anchor="end" font-weight="normal" fill="#333" stroke="#333" stroke-width="0.13" font-family="'Liberation Sans', sans-serif" dominant-baseline="central">0.01</text>
<text x="14.4" y="278.1" font-size="4.3" text-anchor="middle" font-weight="bold" fill="#333" font-family="'Liberation Sans', sans-serif" dominant-baseline="central" transform="rotate(-90 14.4 278.1)">EBV DNA copies/ml</text>
<line x1="39.1" y1="298.8" x2="223" y2="298.8" stroke="#999" stroke-width="0.7" stroke-dasharray="1,0.7"/>
<polyline points="39.1,282.7 80.4,281.7 95.2,277 111.5,274 122.3,274.6 134.6,272.5 148.5,279.2 162.3,273 176.2,275.5 190,275.5 217.7,269.4" fill="none" stroke="#8a1fc8" stroke-width="2" stroke-linejoin="round" stroke-linecap="round"/>
<polyline points="95.2,296 120,296.6 150,297.2 175,296.8 188.5,296.5 216,298" fill="none" stroke="#1e8a30" stroke-width="1.7" stroke-linejoin="round" stroke-linecap="round"/>
<text x="96" y="265.6" font-size="5.9" text-anchor="start" font-weight="normal" fill="#111" stroke="#111" stroke-width="0.13" font-family="'Liberation Sans', sans-serif" dominant-baseline="central">EBV CTL, 10<tspan dy="-1.2" font-size="3.6">6</tspan><tspan dy="1.2">/kg</tspan></text>
<line x1="95" y1="266" x2="95" y2="271" stroke="#000" stroke-width="0.7"/>
<path d="M93.3,270 L96.7,270 L95,273.6 Z" fill="#000"/>
<line x1="114" y1="266" x2="114" y2="271" stroke="#000" stroke-width="0.7"/>
<path d="M112.3,270 L115.7,270 L114,273.6 Z" fill="#000"/>
<line x1="134.6" y1="266" x2="134.6" y2="271" stroke="#000" stroke-width="0.7"/>
<path d="M132.9,270 L136.29999999999998,270 L134.6,273.6 Z" fill="#000"/>
<line x1="177.6" y1="259.3" x2="186.9" y2="259.3" stroke="#8a1fc8" stroke-width="2.4"/>
<text x="188.6" y="258.9" font-size="5.7" text-anchor="start" font-weight="normal" fill="#a838e0" stroke="#a838e0" stroke-width="0.13" font-family="'Liberation Sans', sans-serif" dominant-baseline="central">EBV DNA</text>
<line x1="177.6" y1="264.9" x2="186.9" y2="264.9" stroke="#1e7a30" stroke-width="2"/>
<text x="188.6" y="266.3" font-size="5.7" text-anchor="start" font-weight="normal" fill="#a838e0" stroke="#a838e0" stroke-width="0.13" font-family="'Liberation Sans', sans-serif" dominant-baseline="central">EBV CTLp</text>
<line x1="232.3" y1="268" x2="232.3" y2="299" stroke="#ddd" stroke-width="0.6"/>
<text x="234.5" y="271.5" font-size="4.4" text-anchor="start" font-weight="normal" fill="#333" stroke="#333" stroke-width="0.13" font-family="'Liberation Sans', sans-serif" dominant-baseline="central">700</text>
<text x="234.5" y="279.2" font-size="4.4" text-anchor="start" font-weight="normal" fill="#333" stroke="#333" stroke-width="0.13" font-family="'Liberation Sans', sans-serif" dominant-baseline="central">500</text>
<text x="234.5" y="286.3" font-size="4.4" text-anchor="start" font-weight="normal" fill="#333" stroke="#333" stroke-width="0.13" font-family="'Liberation Sans', sans-serif" dominant-baseline="central">300</text>
<text x="234.5" y="293" font-size="4.4" text-anchor="start" font-weight="normal" fill="#333" stroke="#333" stroke-width="0.13" font-family="'Liberation Sans', sans-serif" dominant-baseline="central">100</text>
<text x="234.5" y="299.2" font-size="4.4" text-anchor="start" font-weight="normal" fill="#333" stroke="#333" stroke-width="0.13" font-family="'Liberation Sans', sans-serif" dominant-baseline="central">0</text>
<text x="246.8" y="286.4" font-size="4.4" text-anchor="middle" font-weight="bold" fill="#333" font-family="'Liberation Sans', sans-serif" dominant-baseline="central" transform="rotate(90 246.8 286.4)">EBV CTLp, cells/ml</text>
<text x="23" y="304.6" font-size="4.6" text-anchor="middle" font-weight="normal" fill="#333" stroke="#333" stroke-width="0.13" font-family="'Liberation Sans', sans-serif" dominant-baseline="central" textLength="31.2" lengthAdjust="spacingAndGlyphs">Days post  BMT</text>
<text x="27.9" y="311.7" font-size="4.5" text-anchor="middle" font-weight="normal" fill="#333" stroke="#333" stroke-width="0.13" font-family="'Liberation Sans', sans-serif" dominant-baseline="central" textLength="41.7" lengthAdjust="spacingAndGlyphs">Weeks post EBV CTL</text>
<text x="54.6" y="304.1" font-size="4.6" text-anchor="middle" font-weight="normal" fill="#333" stroke="#333" stroke-width="0.13" font-family="'Liberation Sans', sans-serif" dominant-baseline="central">155</text>
<text x="67.7" y="304.1" font-size="4.6" text-anchor="middle" font-weight="normal" fill="#333" stroke="#333" stroke-width="0.13" font-family="'Liberation Sans', sans-serif" dominant-baseline="central">160</text>
<text x="81.4" y="304.1" font-size="4.6" text-anchor="middle" font-weight="normal" fill="#333" stroke="#333" stroke-width="0.13" font-family="'Liberation Sans', sans-serif" dominant-baseline="central">165</text>
<text x="95" y="304.1" font-size="4.6" text-anchor="middle" font-weight="normal" fill="#333" stroke="#333" stroke-width="0.13" font-family="'Liberation Sans', sans-serif" dominant-baseline="central">170</text>
<text x="107.9" y="304.1" font-size="4.6" text-anchor="middle" font-weight="normal" fill="#333" stroke="#333" stroke-width="0.13" font-family="'Liberation Sans', sans-serif" dominant-baseline="central">175</text>
<text x="122.7" y="304.1" font-size="4.6" text-anchor="middle" font-weight="normal" fill="#333" stroke="#333" stroke-width="0.13" font-family="'Liberation Sans', sans-serif" dominant-baseline="central">180</text>
<text x="135.6" y="304.1" font-size="4.6" text-anchor="middle" font-weight="normal" fill="#333" stroke="#333" stroke-width="0.13" font-family="'Liberation Sans', sans-serif" dominant-baseline="central">185</text>
<text x="149.1" y="304.1" font-size="4.6" text-anchor="middle" font-weight="normal" fill="#333" stroke="#333" stroke-width="0.13" font-family="'Liberation Sans', sans-serif" dominant-baseline="central">190</text>
<text x="163.1" y="304.1" font-size="4.6" text-anchor="middle" font-weight="normal" fill="#333" stroke="#333" stroke-width="0.13" font-family="'Liberation Sans', sans-serif" dominant-baseline="central">195</text>
<text x="177.1" y="304.1" font-size="4.6" text-anchor="middle" font-weight="normal" fill="#333" stroke="#333" stroke-width="0.13" font-family="'Liberation Sans', sans-serif" dominant-baseline="central">200</text>
<text x="190.5" y="304.1" font-size="4.6" text-anchor="middle" font-weight="normal" fill="#333" stroke="#333" stroke-width="0.13" font-family="'Liberation Sans', sans-serif" dominant-baseline="central">205</text>
<text x="203.5" y="304.1" font-size="4.6" text-anchor="middle" font-weight="normal" fill="#333" stroke="#333" stroke-width="0.13" font-family="'Liberation Sans', sans-serif" dominant-baseline="central">210</text>
<text x="216.9" y="304.1" font-size="4.6" text-anchor="middle" font-weight="normal" fill="#333" stroke="#333" stroke-width="0.13" font-family="'Liberation Sans', sans-serif" dominant-baseline="central">215</text>
<text x="95.8" y="310.9" font-size="4.6" text-anchor="middle" font-weight="normal" fill="#333" stroke="#333" stroke-width="0.13" font-family="'Liberation Sans', sans-serif" dominant-baseline="central">0</text>
<text x="116.8" y="310.9" font-size="4.6" text-anchor="middle" font-weight="normal" fill="#333" stroke="#333" stroke-width="0.13" font-family="'Liberation Sans', sans-serif" dominant-baseline="central">1</text>
<text x="134.3" y="310.9" font-size="4.6" text-anchor="middle" font-weight="normal" fill="#333" stroke="#333" stroke-width="0.13" font-family="'Liberation Sans', sans-serif" dominant-baseline="central">2</text>
<text x="152.3" y="310.9" font-size="4.6" text-anchor="middle" font-weight="normal" fill="#333" stroke="#333" stroke-width="0.13" font-family="'Liberation Sans', sans-serif" dominant-baseline="central">3</text>
<text x="171.7" y="310.9" font-size="4.6" text-anchor="middle" font-weight="normal" fill="#333" stroke="#333" stroke-width="0.13" font-family="'Liberation Sans', sans-serif" dominant-baseline="central">4</text>
<text x="191.4" y="310.9" font-size="4.6" text-anchor="middle" font-weight="normal" fill="#333" stroke="#333" stroke-width="0.13" font-family="'Liberation Sans', sans-serif" dominant-baseline="central">5</text>
<text x="210.2" y="310.9" font-size="4.6" text-anchor="middle" font-weight="normal" fill="#333" stroke="#333" stroke-width="0.13" font-family="'Liberation Sans', sans-serif" dominant-baseline="central">6</text>
<text x="263.8" y="172.2" font-size="12" text-anchor="start" font-weight="bold" fill="#000" font-family="'Liberation Sans', sans-serif" dominant-baseline="central">G</text>
<line x1="301" y1="179.5" x2="301" y2="226.8" stroke="#000" stroke-width="1.5"/>
<line x1="301" y1="186.8" x2="303.8" y2="186.8" stroke="#000" stroke-width="1.5"/>
<line x1="301" y1="193.5" x2="303.8" y2="193.5" stroke="#000" stroke-width="1.5"/>
<line x1="301" y1="200.8" x2="303.8" y2="200.8" stroke="#000" stroke-width="1.5"/>
<line x1="301" y1="207.4" x2="303.8" y2="207.4" stroke="#000" stroke-width="1.5"/>
<line x1="301" y1="213.5" x2="303.8" y2="213.5" stroke="#000" stroke-width="1.5"/>
<line x1="301" y1="222.6" x2="303.8" y2="222.6" stroke="#000" stroke-width="1.5"/>
<line x1="301" y1="183.5" x2="302.6" y2="183.5" stroke="#000" stroke-width="0.7"/>
<line x1="301" y1="190.2" x2="302.6" y2="190.2" stroke="#000" stroke-width="0.7"/>
<line x1="301" y1="197.2" x2="302.6" y2="197.2" stroke="#000" stroke-width="0.7"/>
<line x1="301" y1="204.1" x2="302.6" y2="204.1" stroke="#000" stroke-width="0.7"/>
<line x1="301" y1="210.5" x2="302.6" y2="210.5" stroke="#000" stroke-width="0.7"/>
<line x1="301" y1="218" x2="302.6" y2="218" stroke="#000" stroke-width="0.7"/>
<text x="298.5" y="188.6" font-size="4.6" text-anchor="end" font-weight="normal" fill="#111" stroke="#111" stroke-width="0.13" font-family="'Liberation Serif', serif" dominant-baseline="central">20000</text>
<text x="298.5" y="195.5" font-size="4.6" text-anchor="end" font-weight="normal" fill="#111" stroke="#111" stroke-width="0.13" font-family="'Liberation Serif', serif" dominant-baseline="central">2000</text>
<text x="298.5" y="202.3" font-size="4.6" text-anchor="end" font-weight="normal" fill="#111" stroke="#111" stroke-width="0.13" font-family="'Liberation Serif', serif" dominant-baseline="central">200</text>
<text x="298.5" y="209" font-size="4.6" text-anchor="end" font-weight="normal" fill="#111" stroke="#111" stroke-width="0.13" font-family="'Liberation Serif', serif" dominant-baseline="central">20</text>
<text x="298.5" y="216.5" font-size="4.6" text-anchor="end" font-weight="normal" fill="#111" stroke="#111" stroke-width="0.13" font-family="'Liberation Serif', serif" dominant-baseline="central">2</text>
<text x="298.5" y="223.7" font-size="5.9" text-anchor="end" font-weight="normal" fill="#111" stroke="#111" stroke-width="0.13" font-family="'Liberation Serif', serif" dominant-baseline="central">negative</text>
<text x="276" y="202.3" font-size="4.5" text-anchor="middle" font-weight="bold" fill="#111" font-family="'Liberation Serif', serif" dominant-baseline="central" transform="rotate(-90 276 202.3)">EBV DNA</text>
<text x="281.3" y="202.7" font-size="3.9" text-anchor="middle" font-weight="bold" fill="#111" font-family="'Liberation Serif', serif" dominant-baseline="central" transform="rotate(-90 281.3 202.7)">copies/ml</text>
<line x1="301" y1="227" x2="490.5" y2="227" stroke="#222" stroke-width="0.9"/>
<polyline points="301,220 355.8,200 369.6,200 383,213.6 395.4,220.4 478.5,220.4" fill="none" stroke="#8a10c8" stroke-width="2.4" stroke-linejoin="round" stroke-linecap="round"/>
<polyline points="355.8,224.8 369.4,224.8 383,200.4 398.5,186.5 410.8,221 440,223.5 466,223.5" fill="none" stroke="#1ea060" stroke-width="1.9" stroke-linejoin="round" stroke-linecap="round"/>
<text x="347" y="182.4" font-size="5.8" text-anchor="middle" font-weight="normal" fill="#222" stroke="#222" stroke-width="0.13" font-family="'Liberation Serif', serif" dominant-baseline="central">DLI</text>
<text x="347.2" y="189.1" font-size="5.9" text-anchor="middle" font-weight="normal" fill="#222" stroke="#222" stroke-width="0.13" font-family="'Liberation Serif', serif" dominant-baseline="central">0.27x10^6/kg</text>
<text x="376.1" y="182.4" font-size="5.8" text-anchor="middle" font-weight="normal" fill="#222" stroke="#222" stroke-width="0.13" font-family="'Liberation Serif', serif" dominant-baseline="central">DLI</text>
<text x="375.7" y="189.1" font-size="5.7" text-anchor="middle" font-weight="normal" fill="#222" stroke="#222" stroke-width="0.13" font-family="'Liberation Serif', serif" dominant-baseline="central">10^6/kg</text>
<line x1="356.4" y1="190.5" x2="356.4" y2="194" stroke="#000" stroke-width="0.8"/>
<path d="M354.5,193.2 L358.29999999999995,193.2 L356.4,197.4 Z" fill="#000"/>
<line x1="369.4" y1="190.5" x2="369.4" y2="194" stroke="#000" stroke-width="0.8"/>
<path d="M367.5,193.2 L371.29999999999995,193.2 L369.4,197.4 Z" fill="#000"/>
<line x1="409.2" y1="186.5" x2="420.8" y2="186.5" stroke="#8a10c8" stroke-width="2.2"/>
<text x="423" y="187" font-size="5.85" text-anchor="start" font-weight="bold" fill="#9010d0" font-family="'Liberation Sans', sans-serif" dominant-baseline="central">EBV DNA copies</text>
<line x1="409.2" y1="190" x2="420.8" y2="190" stroke="#1ea060" stroke-width="1.6"/>
<text x="425" y="191.8" font-size="5.9" text-anchor="start" font-weight="bold" fill="#20b060" font-family="'Liberation Sans', sans-serif" dominant-baseline="central">EBV  CTLp</text>
<line x1="490.5" y1="179.6" x2="490.5" y2="227" stroke="#888" stroke-width="0.7"/>
<text x="499.6" y="183" font-size="4.6" text-anchor="end" font-weight="normal" fill="#333" stroke="#333" stroke-width="0.13" font-family="'Liberation Sans', sans-serif" dominant-baseline="central">200</text>
<text x="499.6" y="193.5" font-size="4.6" text-anchor="end" font-weight="normal" fill="#333" stroke="#333" stroke-width="0.13" font-family="'Liberation Sans', sans-serif" dominant-baseline="central">150</text>
<text x="499.6" y="204.5" font-size="4.6" text-anchor="end" font-weight="normal" fill="#333" stroke="#333" stroke-width="0.13" font-family="'Liberation Sans', sans-serif" dominant-baseline="central">100</text>
<text x="499.6" y="216" font-size="4.6" text-anchor="end" font-weight="normal" fill="#333" stroke="#333" stroke-width="0.13" font-family="'Liberation Sans', sans-serif" dominant-baseline="central">50</text>
<text x="491" y="228.4" font-size="7.2" text-anchor="start" font-weight="normal" fill="#222" stroke="#222" stroke-width="0.13" font-family="'Liberation Sans', sans-serif" dominant-baseline="central">0</text>
<text x="505" y="205.5" font-size="4.4" text-anchor="middle" font-weight="bold" fill="#333" font-family="'Liberation Sans', sans-serif" dominant-baseline="central" transform="rotate(90 505 205.5)">EBV CTLp, cells/ml</text>
<text x="282" y="231.4" font-size="4.5" text-anchor="middle" font-weight="normal" fill="#333" stroke="#333" stroke-width="0.13" font-family="'Liberation Serif', serif" dominant-baseline="central">Days post BMT</text>
<text x="282" y="238.6" font-size="4.5" text-anchor="middle" font-weight="normal" fill="#333" stroke="#333" stroke-width="0.13" font-family="'Liberation Serif', serif" dominant-baseline="central">Weeks post DLI</text>
<text x="301.7" y="231.2" font-size="4.4" text-anchor="middle" font-weight="normal" fill="#333" stroke="#333" stroke-width="0.13" font-family="'Liberation Serif', serif" dominant-baseline="central">101</text>
<text x="338.5" y="231.2" font-size="4.4" text-anchor="middle" font-weight="normal" fill="#333" stroke="#333" stroke-width="0.13" font-family="'Liberation Serif', serif" dominant-baseline="central">121</text>
<text x="378.5" y="231.2" font-size="4.4" text-anchor="middle" font-weight="normal" fill="#333" stroke="#333" stroke-width="0.13" font-family="'Liberation Serif', serif" dominant-baseline="central">141</text>
<text x="415" y="231.2" font-size="4.4" text-anchor="middle" font-weight="normal" fill="#333" stroke="#333" stroke-width="0.13" font-family="'Liberation Serif', serif" dominant-baseline="central">161</text>
<text x="452.5" y="231.2" font-size="4.4" text-anchor="middle" font-weight="normal" fill="#333" stroke="#333" stroke-width="0.13" font-family="'Liberation Serif', serif" dominant-baseline="central">181</text>
<text x="489.5" y="231.2" font-size="4.4" text-anchor="middle" font-weight="normal" fill="#333" stroke="#333" stroke-width="0.13" font-family="'Liberation Serif', serif" dominant-baseline="central">221</text>
<text x="355.8" y="238.6" font-size="4.8" text-anchor="middle" font-weight="normal" fill="#333" stroke="#333" stroke-width="0.13" font-family="'Liberation Sans', sans-serif" dominant-baseline="central">0</text>
<text x="369.7" y="238.6" font-size="4.8" text-anchor="middle" font-weight="normal" fill="#333" stroke="#333" stroke-width="0.13" font-family="'Liberation Sans', sans-serif" dominant-baseline="central">1</text>
<text x="384.8" y="238.6" font-size="4.8" text-anchor="middle" font-weight="normal" fill="#333" stroke="#333" stroke-width="0.13" font-family="'Liberation Sans', sans-serif" dominant-baseline="central">2</text>
<text x="399" y="238.6" font-size="4.8" text-anchor="middle" font-weight="normal" fill="#333" stroke="#333" stroke-width="0.13" font-family="'Liberation Sans', sans-serif" dominant-baseline="central">3</text>
<text x="415.7" y="238.6" font-size="4.8" text-anchor="middle" font-weight="normal" fill="#333" stroke="#333" stroke-width="0.13" font-family="'Liberation Sans', sans-serif" dominant-baseline="central">4</text>
<text x="429.3" y="238.6" font-size="4.8" text-anchor="middle" font-weight="normal" fill="#333" stroke="#333" stroke-width="0.13" font-family="'Liberation Sans', sans-serif" dominant-baseline="central">5</text>
<text x="442.7" y="238.6" font-size="4.8" text-anchor="middle" font-weight="normal" fill="#333" stroke="#333" stroke-width="0.13" font-family="'Liberation Sans', sans-serif" dominant-baseline="central">6</text>
<text x="456" y="238.6" font-size="4.8" text-anchor="middle" font-weight="normal" fill="#333" stroke="#333" stroke-width="0.13" font-family="'Liberation Sans', sans-serif" dominant-baseline="central">7</text>
<text x="468.8" y="238.6" font-size="4.8" text-anchor="middle" font-weight="normal" fill="#333" stroke="#333" stroke-width="0.13" font-family="'Liberation Sans', sans-serif" dominant-baseline="central">8</text>
<text x="263.8" y="253" font-size="12" text-anchor="start" font-weight="bold" fill="#000" font-family="'Liberation Sans', sans-serif" dominant-baseline="central">H</text>
<line x1="296.2" y1="264.4" x2="296.2" y2="295" stroke="#bbb" stroke-width="0.9"/>
<text x="291.2" y="263.8" font-size="4.1" text-anchor="end" font-weight="normal" fill="#333" stroke="#333" stroke-width="0.13" font-family="'Liberation Sans', sans-serif" dominant-baseline="central">10000</text>
<text x="291.2" y="272" font-size="4.1" text-anchor="end" font-weight="normal" fill="#333" stroke="#333" stroke-width="0.13" font-family="'Liberation Sans', sans-serif" dominant-baseline="central">1000</text>
<text x="291.2" y="279.3" font-size="4.1" text-anchor="end" font-weight="normal" fill="#333" stroke="#333" stroke-width="0.13" font-family="'Liberation Sans', sans-serif" dominant-baseline="central">100</text>
<text x="291.2" y="287.7" font-size="4.1" text-anchor="end" font-weight="normal" fill="#333" stroke="#333" stroke-width="0.13" font-family="'Liberation Sans', sans-serif" dominant-baseline="central">10</text>
<text x="291.2" y="294.2" font-size="4.1" text-anchor="end" font-weight="normal" fill="#333" stroke="#333" stroke-width="0.13" font-family="'Liberation Sans', sans-serif" dominant-baseline="central">1</text>
<text x="276.2" y="275.5" font-size="4.4" text-anchor="middle" font-weight="bold" fill="#222" font-family="'Liberation Sans', sans-serif" dominant-baseline="central" transform="rotate(-90 276.2 275.5)">EBV CTLp cells/ml</text>
<line x1="296.2" y1="294.8" x2="487.7" y2="294.8" stroke="#555" stroke-width="0.9"/>
<polyline points="296.5,274 312,274 328,271.2 344.2,266.5 360.4,268.8 375.4,274 390.8,269.2 407.7,269.2 423,273 438.5,269.2 453.8,271.7 470.8,269.8 486.2,269.2" fill="none" stroke="#6a2ab8" stroke-width="1.8" stroke-linejoin="round" stroke-linecap="round"/>
<line x1="365.4" y1="294.6" x2="435" y2="294.6" stroke="#1ec060" stroke-width="2"/>
<line x1="310" y1="281.3" x2="324.6" y2="281.3" stroke="#6a2ab8" stroke-width="1.9"/>
<text x="326.4" y="281.5" font-size="5.6" text-anchor="start" font-weight="normal" fill="#222" stroke="#222" stroke-width="0.13" font-family="'Liberation Sans', sans-serif" dominant-baseline="central">EBV DNA</text>
<line x1="309.5" y1="290.5" x2="321.5" y2="290.5" stroke="#1ec060" stroke-width="2.2"/>
<text x="322.8" y="289.3" font-size="5.8" text-anchor="start" font-weight="normal" fill="#222" stroke="#222" stroke-width="0.13" font-family="'Liberation Sans', sans-serif" dominant-baseline="central">EBV CTLp</text>
<text x="367.3" y="257.3" font-size="5.4" text-anchor="middle" font-weight="normal" fill="#111" stroke="#111" stroke-width="0.13" font-family="'Liberation Sans', sans-serif" dominant-baseline="central">DLI</text>
<line x1="366.2" y1="259.8" x2="366.2" y2="266.5" stroke="#000" stroke-width="1.1"/>
<path d="M363.6,263.2 L366.2,267.4 L368.8,263.2" fill="none" stroke="#000" stroke-width="1.2"/>
<line x1="487.7" y1="262" x2="487.7" y2="295.5" stroke="#aaa" stroke-width="0.7"/>
<text x="491.7" y="268.3" font-size="4.4" text-anchor="start" font-weight="normal" fill="#333" stroke="#333" stroke-width="0.13" font-family="'Liberation Sans', sans-serif" dominant-baseline="central">500</text>
<text x="491.7" y="278.5" font-size="4.4" text-anchor="start" font-weight="normal" fill="#333" stroke="#333" stroke-width="0.13" font-family="'Liberation Sans', sans-serif" dominant-baseline="central">300</text>
<text x="491.7" y="288.6" font-size="4.4" text-anchor="start" font-weight="normal" fill="#333" stroke="#333" stroke-width="0.13" font-family="'Liberation Sans', sans-serif" dominant-baseline="central">100</text>
<text x="509.2" y="277.5" font-size="4.4" text-anchor="middle" font-weight="normal" fill="#333" stroke="#333" stroke-width="0.13" font-family="'Liberation Sans', sans-serif" dominant-baseline="central" transform="rotate(90 509.2 277.5)">EBV CTLp, cells/ml</text>
<text x="276.5" y="299.1" font-size="4.8" text-anchor="middle" font-weight="bold" fill="#222" font-family="'Liberation Sans', sans-serif" dominant-baseline="central" textLength="33.3" lengthAdjust="spacingAndGlyphs">Weeks post-DLI</text>
<text x="276" y="305.7" font-size="4.8" text-anchor="middle" font-weight="bold" fill="#222" font-family="'Liberation Sans', sans-serif" dominant-baseline="central" textLength="31.6" lengthAdjust="spacingAndGlyphs">Days post BMT</text>
<text x="366.2" y="298.7" font-size="4.6" text-anchor="middle" font-weight="normal" fill="#222" stroke="#222" stroke-width="0.13" font-family="'Liberation Sans', sans-serif" dominant-baseline="central">0</text>
<text x="370.9" y="298.7" font-size="4.6" text-anchor="middle" font-weight="normal" fill="#222" stroke="#222" stroke-width="0.13" font-family="'Liberation Sans', sans-serif" dominant-baseline="central">1</text>
<text x="376.6" y="298.7" font-size="4.6" text-anchor="middle" font-weight="normal" fill="#222" stroke="#222" stroke-width="0.13" font-family="'Liberation Sans', sans-serif" dominant-baseline="central">2</text>
<text x="382.7" y="298.7" font-size="4.6" text-anchor="middle" font-weight="normal" fill="#222" stroke="#222" stroke-width="0.13" font-family="'Liberation Sans', sans-serif" dominant-baseline="central">3</text>
<text x="387.9" y="298.7" font-size="4.6" text-anchor="middle" font-weight="normal" fill="#222" stroke="#222" stroke-width="0.13" font-family="'Liberation Sans', sans-serif" dominant-baseline="central">4</text>
<text x="393.1" y="298.7" font-size="4.6" text-anchor="middle" font-weight="normal" fill="#222" stroke="#222" stroke-width="0.13" font-family="'Liberation Sans', sans-serif" dominant-baseline="central">5</text>
<text x="399.1" y="298.7" font-size="4.6" text-anchor="middle" font-weight="normal" fill="#222" stroke="#222" stroke-width="0.13" font-family="'Liberation Sans', sans-serif" dominant-baseline="central">6</text>
<text x="405.2" y="298.7" font-size="4.6" text-anchor="middle" font-weight="normal" fill="#222" stroke="#222" stroke-width="0.13" font-family="'Liberation Sans', sans-serif" dominant-baseline="central">7</text>
<text x="410.7" y="298.7" font-size="4.6" text-anchor="middle" font-weight="normal" fill="#222" stroke="#222" stroke-width="0.13" font-family="'Liberation Sans', sans-serif" dominant-baseline="central">8</text>
<text x="415.9" y="298.7" font-size="4.6" text-anchor="middle" font-weight="normal" fill="#222" stroke="#222" stroke-width="0.13" font-family="'Liberation Sans', sans-serif" dominant-baseline="central">9</text>
<text x="423.3" y="298.7" font-size="4.6" text-anchor="middle" font-weight="normal" fill="#222" stroke="#222" stroke-width="0.13" font-family="'Liberation Sans', sans-serif" dominant-baseline="central">10</text>
<text x="429.7" y="298.7" font-size="4.6" text-anchor="middle" font-weight="normal" fill="#222" stroke="#222" stroke-width="0.13" font-family="'Liberation Sans', sans-serif" dominant-baseline="central">11</text>
<text x="436" y="298.7" font-size="4.6" text-anchor="middle" font-weight="normal" fill="#222" stroke="#222" stroke-width="0.13" font-family="'Liberation Sans', sans-serif" dominant-baseline="central">12</text>
<text x="296.5" y="303.8" font-size="4.7" text-anchor="middle" font-weight="normal" fill="#222" stroke="#222" stroke-width="0.13" font-family="'Liberation Sans', sans-serif" dominant-baseline="central">0</text>
<text x="312" y="303.8" font-size="4.7" text-anchor="middle" font-weight="normal" fill="#222" stroke="#222" stroke-width="0.13" font-family="'Liberation Sans', sans-serif" dominant-baseline="central">20</text>
<text x="328" y="303.8" font-size="4.7" text-anchor="middle" font-weight="normal" fill="#222" stroke="#222" stroke-width="0.13" font-family="'Liberation Sans', sans-serif" dominant-baseline="central">40</text>
<text x="344.2" y="303.8" font-size="4.7" text-anchor="middle" font-weight="normal" fill="#222" stroke="#222" stroke-width="0.13" font-family="'Liberation Sans', sans-serif" dominant-baseline="central">60</text>
<text x="359.2" y="303.8" font-size="4.7" text-anchor="middle" font-weight="normal" fill="#222" stroke="#222" stroke-width="0.13" font-family="'Liberation Sans', sans-serif" dominant-baseline="central">80</text>
<text x="375.4" y="303.8" font-size="4.7" text-anchor="middle" font-weight="normal" fill="#222" stroke="#222" stroke-width="0.13" font-family="'Liberation Sans', sans-serif" dominant-baseline="central">100</text>
<text x="390.8" y="303.8" font-size="4.7" text-anchor="middle" font-weight="normal" fill="#222" stroke="#222" stroke-width="0.13" font-family="'Liberation Sans', sans-serif" dominant-baseline="central">120</text>
<text x="407.7" y="303.8" font-size="4.7" text-anchor="middle" font-weight="normal" fill="#222" stroke="#222" stroke-width="0.13" font-family="'Liberation Sans', sans-serif" dominant-baseline="central">140</text>
<text x="423" y="303.8" font-size="4.7" text-anchor="middle" font-weight="normal" fill="#222" stroke="#222" stroke-width="0.13" font-family="'Liberation Sans', sans-serif" dominant-baseline="central">160</text>
<text x="438.5" y="303.8" font-size="4.7" text-anchor="middle" font-weight="normal" fill="#222" stroke="#222" stroke-width="0.13" font-family="'Liberation Sans', sans-serif" dominant-baseline="central">180</text>
<text x="453.8" y="303.8" font-size="4.7" text-anchor="middle" font-weight="normal" fill="#222" stroke="#222" stroke-width="0.13" font-family="'Liberation Sans', sans-serif" dominant-baseline="central">200</text>
<text x="470.8" y="303.8" font-size="4.7" text-anchor="middle" font-weight="normal" fill="#222" stroke="#222" stroke-width="0.13" font-family="'Liberation Sans', sans-serif" dominant-baseline="central">220</text>
<text x="486.2" y="303.8" font-size="4.7" text-anchor="middle" font-weight="normal" fill="#222" stroke="#222" stroke-width="0.13" font-family="'Liberation Sans', sans-serif" dominant-baseline="central">240</text>
<text x="49.8" y="324.2" font-size="10" text-anchor="start" font-weight="bold" fill="#000" font-family="'Liberation Sans', sans-serif" dominant-baseline="central">I</text>
<text x="86.5" y="338.3" font-size="5.95" text-anchor="middle" font-weight="bold" fill="#111" font-family="'Liberation Sans', sans-serif" dominant-baseline="central" text-decoration="underline">Patients treated with EBV</text>
<text x="86.5" y="345" font-size="5.95" text-anchor="middle" font-weight="bold" fill="#111" font-family="'Liberation Sans', sans-serif" dominant-baseline="central" text-decoration="underline">CTL from 3<tspan dy="-1.5" font-size="3.8">rd</tspan><tspan dy="1.5"> party donors</tspan></text>
<rect x="55.5" y="357.5" width="30.7" height="19.5" fill="#fff" stroke="#ccc" stroke-width="0.6"/>
<line x1="60" y1="362.0" x2="72.7" y2="362.0" stroke="#10106a" stroke-width="1.9"/>
<text x="81" y="362.6" font-size="4.6" text-anchor="middle" font-weight="normal" fill="#222" stroke="#222" stroke-width="0.13" font-family="'Liberation Sans', sans-serif" dominant-baseline="central">1</text>
<line x1="60" y1="367.3" x2="72.7" y2="367.3" stroke="#6a1010" stroke-width="1.9"/>
<text x="81" y="368.40000000000003" font-size="4.6" text-anchor="middle" font-weight="normal" fill="#222" stroke="#222" stroke-width="0.13" font-family="'Liberation Sans', sans-serif" dominant-baseline="central">6</text>
<line x1="60" y1="372.6" x2="72.7" y2="372.6" stroke="#e81414" stroke-width="1.9"/>
<text x="81" y="374.20000000000005" font-size="4.6" text-anchor="middle" font-weight="normal" fill="#222" stroke="#222" stroke-width="0.13" font-family="'Liberation Sans', sans-serif" dominant-baseline="central">13</text>
<line x1="177.6" y1="331.4" x2="461.3" y2="331.4" stroke="#9a9a9a" stroke-width="0.9"/>
<line x1="177.6" y1="340.1" x2="461.3" y2="340.1" stroke="#9a9a9a" stroke-width="0.9"/>
<line x1="177.6" y1="349.2" x2="461.3" y2="349.2" stroke="#555" stroke-width="0.9"/>
<line x1="177.6" y1="357.5" x2="461.3" y2="357.5" stroke="#8a8a8a" stroke-width="0.9"/>
<line x1="177.6" y1="366.6" x2="461.3" y2="366.6" stroke="#555" stroke-width="0.9"/>
<line x1="177.6" y1="375.3" x2="461.3" y2="375.3" stroke="#c8c8c8" stroke-width="0.9"/>
<text x="172.3" y="333" font-size="4.4" text-anchor="end" font-weight="normal" fill="#333" stroke="#333" stroke-width="0.13" font-family="'Liberation Sans', sans-serif" dominant-baseline="central">10<tspan dy="-1" font-size="2.6">5</tspan></text>
<text x="172.3" y="341.8" font-size="4.4" text-anchor="end" font-weight="normal" fill="#333" stroke="#333" stroke-width="0.13" font-family="'Liberation Sans', sans-serif" dominant-baseline="central">10<tspan dy="-1" font-size="2.6">4</tspan></text>
<text x="172.3" y="350.6" font-size="4.4" text-anchor="end" font-weight="normal" fill="#333" stroke="#333" stroke-width="0.13" font-family="'Liberation Sans', sans-serif" dominant-baseline="central">10<tspan dy="-1" font-size="2.6">3</tspan></text>
<text x="172.3" y="359.2" font-size="4.4" text-anchor="end" font-weight="normal" fill="#333" stroke="#333" stroke-width="0.13" font-family="'Liberation Sans', sans-serif" dominant-baseline="central">10<tspan dy="-1" font-size="2.6">2</tspan></text>
<text x="172.3" y="368.1" font-size="4.4" text-anchor="end" font-weight="normal" fill="#333" stroke="#333" stroke-width="0.13" font-family="'Liberation Sans', sans-serif" dominant-baseline="central">10</text>
<text x="172.3" y="376.3" font-size="4.4" text-anchor="end" font-weight="normal" fill="#333" stroke="#333" stroke-width="0.13" font-family="'Liberation Sans', sans-serif" dominant-baseline="central">1</text>
<text x="159" y="346.2" font-size="4.4" text-anchor="middle" font-weight="bold" fill="#222" font-family="'Liberation Sans', sans-serif" dominant-baseline="central" transform="rotate(-90 159 346.2)">EBV CTLp, cells/ml</text>
<text x="135" y="377.8" font-size="4.4" text-anchor="middle" font-weight="normal" fill="#333" stroke="#333" stroke-width="0.13" font-family="'Liberation Sans', sans-serif" dominant-baseline="central">Weeks post EBV CTL</text>
<text x="185" y="380.2" font-size="4.4" text-anchor="middle" font-weight="normal" fill="#333" stroke="#333" stroke-width="0.13" font-family="'Liberation Sans', sans-serif" dominant-baseline="central">0</text>
<text x="220.8" y="380.2" font-size="4.4" text-anchor="middle" font-weight="normal" fill="#333" stroke="#333" stroke-width="0.13" font-family="'Liberation Sans', sans-serif" dominant-baseline="central">1</text>
<text x="256.3" y="380.2" font-size="4.4" text-anchor="middle" font-weight="normal" fill="#333" stroke="#333" stroke-width="0.13" font-family="'Liberation Sans', sans-serif" dominant-baseline="central">2</text>
<text x="292.5" y="380.2" font-size="4.4" text-anchor="middle" font-weight="normal" fill="#333" stroke="#333" stroke-width="0.13" font-family="'Liberation Sans', sans-serif" dominant-baseline="central">3</text>
<text x="328.75" y="380.2" font-size="4.4" text-anchor="middle" font-weight="normal" fill="#333" stroke="#333" stroke-width="0.13" font-family="'Liberation Sans', sans-serif" dominant-baseline="central">4</text>
<text x="364.25" y="380.2" font-size="4.4" text-anchor="middle" font-weight="normal" fill="#333" stroke="#333" stroke-width="0.13" font-family="'Liberation Sans', sans-serif" dominant-baseline="central">5</text>
<text x="400" y="380.2" font-size="4.4" text-anchor="middle" font-weight="normal" fill="#333" stroke="#333" stroke-width="0.13" font-family="'Liberation Sans', sans-serif" dominant-baseline="central">6</text>
<text x="436.25" y="380.2" font-size="4.4" text-anchor="middle" font-weight="normal" fill="#333" stroke="#333" stroke-width="0.13" font-family="'Liberation Sans', sans-serif" dominant-baseline="central">7</text>
<text x="462.5" y="380.2" font-size="4.4" text-anchor="middle" font-weight="normal" fill="#333" stroke="#333" stroke-width="0.13" font-family="'Liberation Sans', sans-serif" dominant-baseline="central">8</text>
<polyline points="186.2,360.5 221.7,354 257.2,363.9 291.25,355 328.75,338.75 365,341.2 400,366.3" fill="none" stroke="#14148a" stroke-width="1.9" stroke-linejoin="round" stroke-linecap="round"/>
<polyline points="221.7,354 254.6,348.4 292.5,339.5 328.75,360.75 365,362 400,366.3 436.25,368.75" fill="none" stroke="#6e1212" stroke-width="1.9" stroke-linejoin="round" stroke-linecap="round"/>
<polyline points="186.2,360.5 221.7,354" fill="none" stroke="#3a1222" stroke-width="2.3" stroke-linejoin="round" stroke-linecap="round"/>
<polyline points="186.2,375.2 221.7,369.1 256.3,374 292,372.5 327.5,370.8 365,375" fill="none" stroke="#e81c1c" stroke-width="1.9" stroke-linejoin="round" stroke-linecap="round"/>
<line x1="182.8" y1="331" x2="257.2" y2="331" stroke="#6e1212" stroke-width="2.2"/>
<path d="M183.29999999999998,330.2 L188.1,330.2 L185.7,334.8 Z" fill="#6e1212"/>
<circle cx="185.7" cy="331.6" r="0.8" fill="#fff" stroke="none" stroke-width="0"/>
<path d="M215.9,330.2 L220.70000000000002,330.2 L218.3,334.8 Z" fill="#6e1212"/>
<circle cx="218.3" cy="331.6" r="0.8" fill="#fff" stroke="none" stroke-width="0"/>
<path d="M252.2,330.2 L257.0,330.2 L254.6,334.8 Z" fill="#6e1212"/>
<circle cx="254.6" cy="331.6" r="0.8" fill="#fff" stroke="none" stroke-width="0"/>
<line x1="182.8" y1="338.5" x2="257" y2="338.5" stroke="#1a48a8" stroke-width="2.4"/>
<path d="M184.39999999999998,338.5 L184.39999999999998,342.4 L182.7,342.4 L185.7,346.2 L188.7,342.4 L187.0,342.4 L187.0,338.5 Z" fill="#c8d4f0" stroke="#1a48a8" stroke-width="1"/>
<path d="M223.89999999999998,338.5 L223.89999999999998,342.4 L222.2,342.4 L225.2,346.2 L228.2,342.4 L226.5,342.4 L226.5,338.5 Z" fill="#c8d4f0" stroke="#1a48a8" stroke-width="1"/>
<path d="M253.29999999999998,338.5 L253.29999999999998,342.4 L251.6,342.4 L254.6,346.2 L257.6,342.4 L255.9,342.4 L255.9,338.5 Z" fill="#c8d4f0" stroke="#1a48a8" stroke-width="1"/>
</svg>
</body></html>
